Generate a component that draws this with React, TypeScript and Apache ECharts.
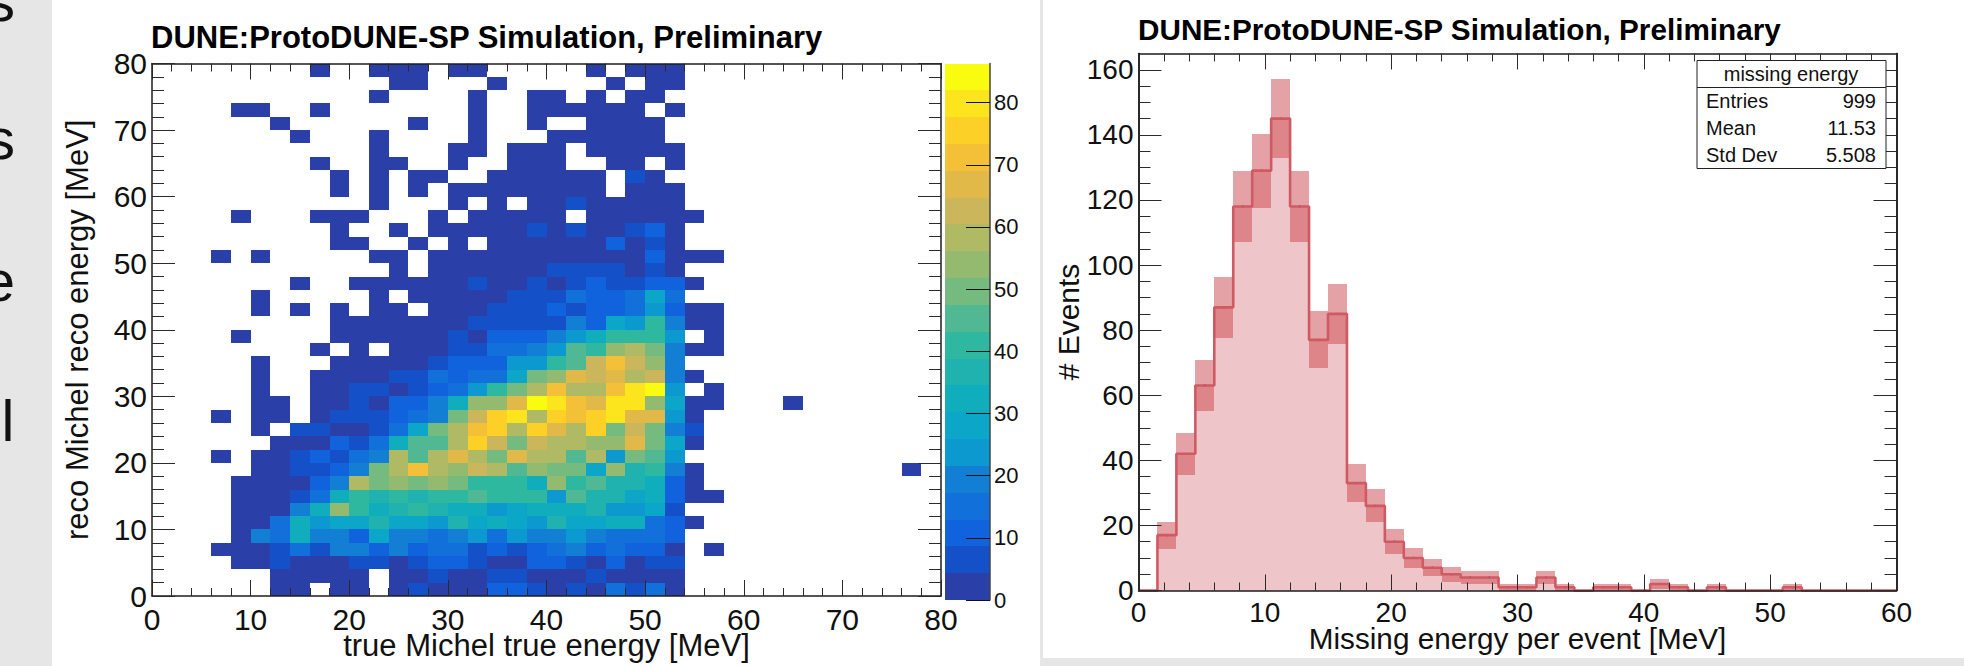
import React, { useEffect, useRef } from "react";
import * as echarts from "echarts";

const FONT = "'Liberation Sans', Arial, sans-serif";
const titleText = "DUNE:ProtoDUNE-SP Simulation, Preliminary";
const panelLetters = ["s", "s", "e", "l"];

// 2D histogram: counts per 2 MeV x 2 MeV bin, top row (78-80 MeV) first, columns 0-58 MeV
const heatBinWidth = 2;
const heatRows: number[][] = [
  [0,0,0,0,0,0,0,0,2,0,0,2,2,2,0,2,2,0,0,0,0,0,2,0,2,2,2,0,0],
  [0,0,0,0,0,0,0,0,0,0,0,0,2,2,0,0,0,2,0,0,0,0,0,2,0,2,2,0,0],
  [0,0,0,0,0,0,0,0,0,0,0,2,0,0,0,0,2,0,0,2,2,0,2,0,2,2,0,0,0],
  [0,0,0,0,2,2,0,0,2,0,0,0,0,0,0,0,2,0,0,2,2,2,2,2,2,0,2,0,0],
  [0,0,0,0,0,0,2,0,0,0,0,0,0,2,0,0,2,0,0,2,0,0,2,2,2,2,0,0,0],
  [0,0,0,0,0,0,0,2,0,0,0,2,0,0,0,0,2,0,0,0,2,2,2,2,2,2,0,0,0],
  [0,0,0,0,0,0,0,0,0,0,0,2,0,0,0,2,2,0,2,2,2,0,2,2,2,2,2,0,0],
  [0,0,0,0,0,0,0,0,2,0,0,2,2,0,0,2,0,0,2,2,2,0,0,2,2,0,2,0,0],
  [0,0,0,0,0,0,0,0,0,2,0,2,0,2,2,0,0,2,2,2,2,2,2,0,6,2,0,0,0],
  [0,0,0,0,0,0,0,0,0,2,0,2,0,2,0,2,2,2,2,2,2,2,2,0,2,2,2,0,0],
  [0,0,0,0,0,0,0,0,0,0,0,2,0,0,0,2,0,2,0,2,2,6,2,2,2,2,2,0,0],
  [0,0,0,0,2,0,0,0,2,2,2,0,0,0,2,0,2,2,2,2,2,0,2,2,2,2,2,2,0],
  [0,0,0,0,0,0,0,0,0,2,0,0,2,0,2,2,2,2,2,6,2,6,2,2,6,11,2,0,0],
  [0,0,0,0,0,0,0,0,0,2,2,0,0,2,0,2,0,2,2,2,2,2,2,11,2,6,2,0,0],
  [0,0,0,2,0,2,0,0,0,0,0,2,2,0,2,2,2,2,2,2,2,2,2,2,2,11,2,2,2],
  [0,0,0,0,0,0,0,0,0,0,0,0,2,0,2,2,2,2,2,2,6,6,6,6,2,6,2,0,0],
  [0,0,0,0,0,0,0,2,0,0,2,2,2,2,2,2,6,2,2,6,2,6,11,6,6,11,11,2,0],
  [0,0,0,0,0,2,0,0,0,0,0,2,0,2,2,2,2,2,6,6,6,15,11,11,15,28,15,0,0],
  [0,0,0,0,0,2,0,2,0,2,0,2,2,0,2,2,2,6,6,6,11,6,11,11,15,24,11,2,2],
  [0,0,0,0,0,0,0,0,0,2,2,2,2,2,2,2,6,6,6,6,6,19,11,28,24,41,19,2,2],
  [0,0,0,0,2,0,0,0,0,2,2,2,2,2,2,6,2,11,11,11,19,24,32,41,41,41,24,0,2],
  [0,0,0,0,0,0,0,0,2,0,2,0,2,2,2,6,6,15,15,19,24,45,41,54,58,50,19,2,2],
  [0,0,0,0,0,2,0,0,0,2,2,2,2,2,6,11,11,11,24,24,41,45,63,71,63,54,19,0,0],
  [0,0,0,0,0,2,0,0,2,2,2,2,6,6,15,11,15,15,28,50,54,67,63,67,58,63,19,2,0],
  [0,0,0,0,0,2,0,0,2,2,6,6,2,6,11,15,24,41,50,58,71,58,58,71,80,84,24,0,2],
  [0,0,0,0,0,2,2,0,2,2,6,2,11,11,19,32,54,54,67,84,80,71,67,80,80,54,28,2,2],
  [0,0,0,2,0,2,2,0,2,6,6,6,11,15,19,50,63,76,80,58,76,71,76,80,67,67,24,2,0],
  [0,0,0,0,0,2,0,6,6,2,2,6,15,28,50,58,71,76,58,76,67,58,76,50,63,50,19,6,0],
  [0,0,0,0,0,0,2,2,2,11,6,15,32,45,45,58,76,63,50,63,58,58,54,54,67,50,28,2,0],
  [0,0,0,2,0,2,2,6,11,6,15,19,58,45,58,67,58,50,67,58,58,45,58,24,50,45,24,0,0],
  [0,0,0,0,0,2,2,6,6,11,19,50,58,71,58,54,63,58,45,54,50,50,28,54,37,41,19,2,0],
  [0,0,0,0,2,2,2,2,11,19,58,50,54,50,54,50,41,41,41,32,54,41,45,37,37,32,11,2,0],
  [0,0,0,0,2,2,2,6,15,32,41,37,41,37,41,41,45,41,41,41,24,45,37,37,28,32,11,2,2],
  [0,0,0,0,2,2,2,19,32,54,41,32,37,41,37,32,32,24,28,32,32,32,37,24,24,28,6,0,0],
  [0,0,0,0,2,2,15,32,24,28,28,37,28,28,24,37,28,32,28,24,37,28,28,32,32,15,11,2,0],
  [0,0,0,0,2,19,15,32,19,19,11,28,19,19,15,19,24,15,24,19,19,24,19,15,15,15,11,0,0],
  [0,0,0,2,2,2,6,15,6,19,19,11,19,11,15,15,6,11,6,11,15,19,11,15,11,11,2,0,2],
  [0,0,0,0,2,2,6,2,2,2,6,6,2,6,11,11,6,2,2,11,11,6,2,11,2,6,6,0,0],
  [0,0,0,0,0,0,2,2,2,2,2,0,2,2,6,2,2,6,6,2,2,2,6,2,2,2,2,0,0],
  [0,0,0,0,0,0,2,2,0,2,2,0,2,6,2,2,2,11,11,6,2,6,2,15,6,15,2,0,0],
];
const heatOutliers: number[][] = [[64, 28, 2], [76, 18, 2]];

// colour bar
const zMax = 86.3;
const zPalette = [
  "#2a3fa8", "#1450c8", "#1062dd", "#1170da", "#127ed4",
  "#0b99cf", "#0ba6c8", "#10adbc", "#20b2ae", "#2fb8a0",
  "#50b893", "#75bb80", "#94ba70", "#b0ba65", "#ccb65b",
  "#e0b948", "#f4c038", "#fdd027", "#fce51d", "#fafc10",
];
const zTicks = [0, 10, 20, 30, 40, 50, 60, 70, 80];

// 1D histogram, 1.5 MeV bins
const missBinWidth = 1.5;
const missCounts = [
  0, 17, 42, 63, 87, 118, 129, 145, 118, 77,
  85, 33, 26, 15, 10, 7, 5, 4, 4, 1,
  1, 4, 1, 0, 1, 1, 0, 2, 1, 0,
  1, 0, 0, 0, 1, 0, 0, 0, 0, 0,
];
const missMajorTicks = [0, 20, 40, 60, 80, 100, 120, 140, 160];
const missMinorTicks = [
  5, 10, 15, 25, 30, 35, 45, 50, 55, 65, 70, 75, 85, 90, 95,
  105, 110, 115, 125, 130, 135, 145, 150, 155,
];
const statsTitle = "missing energy";
const statsNames = ["Entries", "Mean", "Std Dev"];
const statsValues = ["999", "11.53", "5.508"];

const AXIS_COLOR = "#1c1c1c";
const TICK_COLOR = "#2a2a2a";

function xAxisOf(gridIndex: number, max: number, position: string, labels: boolean, fontSize: number, margin: number, name?: string, nameGap?: number, nameSize?: number) {
  return {
    type: "value", gridIndex, min: 0, max, interval: 10, position, z: 10,
    name, nameLocation: "middle", nameGap, nameMoveOverlap: false,
    nameTextStyle: { fontFamily: FONT, fontSize: nameSize, color: "#111" },
    axisLine: { show: true, onZero: false, lineStyle: { color: AXIS_COLOR, width: 1.5 } },
    axisTick: { show: true, inside: true, length: 16, lineStyle: { color: TICK_COLOR, width: 1 } },
    minorTick: { show: true, splitNumber: 5, length: 8, lineStyle: { color: TICK_COLOR, width: 1 } },
    axisLabel: { show: labels, fontFamily: FONT, fontSize, color: "#111", margin, hideOverlap: false },
    splitLine: { show: false },
    minorSplitLine: { show: false },
  };
}

function boxOf(a: number[], b: number[], fill: string) {
  const x = Math.round(a[0]), y = Math.round(a[1]);
  return { type: "rect", shape: { x, y, width: Math.round(b[0]) - x, height: Math.round(b[1]) - y }, style: { fill } };
}

function App() {
  const ref = useRef<HTMLDivElement>(null);
  useEffect(() => {
    const chart = echarts.init(ref.current!, undefined, { renderer: "svg" });

    const heatData: number[][] = [];
    heatRows.forEach((row, r) => {
      const yLow = 78 - r * heatBinWidth;
      row.forEach((v, c) => {
        if (v > 0) heatData.push([c * heatBinWidth, yLow, v]);
      });
    });
    heatOutliers.forEach((o) => heatData.push(o));
    const zStep = zMax / zPalette.length;

    const missRects = missCounts.map((n, i) => [i * missBinWidth, n]);
    const outline: number[][] = [];
    missCounts.forEach((n, i) => {
      outline.push([i * missBinWidth, n]);
      outline.push([(i + 1) * missBinWidth, n]);
    });
    const dots = missCounts
      .map((n, i) => [(i + 0.5) * missBinWidth, n])
      .filter((d) => d[1] > 0);

    const leftAxisCommon = {
      type: "value", gridIndex: 0, min: 0, max: 80, interval: 10, z: 10,
      axisLine: { show: true, onZero: false, lineStyle: { color: AXIS_COLOR, width: 1.5 } },
      axisTick: { show: true, inside: true, length: 23, lineStyle: { color: TICK_COLOR, width: 1 } },
      minorTick: { show: true, splitNumber: 5, length: 12, lineStyle: { color: TICK_COLOR, width: 1 } },
      splitLine: { show: false }, minorSplitLine: { show: false },
    };
    const rightYCommon = {
      type: "value", gridIndex: 1, min: 0, max: 165, z: 10,
      axisLine: { show: true, onZero: false, lineStyle: { color: AXIS_COLOR, width: 1.5 } },
      splitLine: { show: false },
    };

    chart.setOption({
      animation: false,
      backgroundColor: "#ffffff",
      textStyle: { fontFamily: FONT },
      title: [
        { text: titleText, left: 151, top: 22, padding: 0, textStyle: { fontFamily: FONT, fontSize: 31, fontWeight: "bold", color: "#000" } },
        { text: titleText, left: 1138, top: 14, padding: 0, textStyle: { fontFamily: FONT, fontSize: 29.7, fontWeight: "bold", color: "#000" } },
      ],
      grid: [
        { left: 152, top: 63.5, width: 789, height: 536.5 },
        { left: 1138.5, top: 53.5, width: 758, height: 537 },
        { left: 945, top: 63.5, width: 45, height: 536.5 },
      ],
      xAxis: [
        xAxisOf(0, 80, "bottom", true, 30, 8, "true Michel true energy [MeV]", 34, 31),
        xAxisOf(0, 80, "top", false, 30, 5),
        xAxisOf(1, 60, "bottom", true, 28, 8, "Missing energy per event [MeV]", 33, 29.7),
        xAxisOf(1, 60, "top", false, 28, 6),
        { type: "value", gridIndex: 2, min: 0, max: 1, show: false, splitLine: { show: false } },
      ],
      yAxis: [
        {
          ...leftAxisCommon, position: "left",
          name: "reco Michel reco energy [MeV]", nameLocation: "middle", nameGap: 59, nameMoveOverlap: false,
          nameTextStyle: { fontFamily: FONT, fontSize: 31, color: "#111" },
          axisLabel: { show: true, fontFamily: FONT, fontSize: 30, color: "#111", margin: 5 },
        },
        { ...leftAxisCommon, position: "right", axisLabel: { show: false } },
        {
          ...rightYCommon, position: "left",
          name: "# Events", nameLocation: "middle", nameGap: 55, nameMoveOverlap: false,
          nameTextStyle: { fontFamily: FONT, fontSize: 30, color: "#111" },
          axisTick: { show: true, inside: true, length: 23, customValues: missMajorTicks, lineStyle: { color: TICK_COLOR, width: 1 } },
          axisLabel: { show: true, customValues: missMajorTicks, fontFamily: FONT, fontSize: 28, color: "#111", margin: 5 },
        },
        {
          ...rightYCommon, position: "right",
          axisTick: { show: true, inside: true, length: 23, customValues: missMajorTicks, lineStyle: { color: TICK_COLOR, width: 1 } },
          axisLabel: { show: false },
        },
        {
          ...rightYCommon, position: "left",
          axisTick: { show: true, inside: true, length: 12, customValues: missMinorTicks, lineStyle: { color: TICK_COLOR, width: 1 } },
          axisLabel: { show: false },
        },
        {
          ...rightYCommon, position: "right",
          axisTick: { show: true, inside: true, length: 12, customValues: missMinorTicks, lineStyle: { color: TICK_COLOR, width: 1 } },
          axisLabel: { show: false },
        },
        {
          type: "value", gridIndex: 2, min: 0, max: zMax, position: "right", z: 10,
          axisLine: { show: true, onZero: false, lineStyle: { color: "#444", width: 1.5 } },
          axisTick: { show: true, inside: true, length: 24, customValues: zTicks, lineStyle: { color: "#111", width: 1 } },
          axisLabel: { show: true, customValues: zTicks, fontFamily: FONT, fontSize: 22, color: "#111", margin: 4 },
          splitLine: { show: false },
        },
      ],
      series: [
        {
          type: "custom", xAxisIndex: 0, yAxisIndex: 0, data: heatData, silent: true,
          encode: { x: 0, y: 1 },
          renderItem: (_: any, api: any) => {
            const x = api.value(0), y = api.value(1), v = api.value(2);
            const level = Math.min(zPalette.length - 1, Math.floor(v / zStep));
            return boxOf(api.coord([x, y + heatBinWidth]), api.coord([x + heatBinWidth, y]), zPalette[level]);
          },
        },
        {
          type: "custom", xAxisIndex: 4, yAxisIndex: 6, silent: true,
          data: zPalette.map((_, i) => [0, i]),
          encode: { x: 0, y: 1 },
          renderItem: (_: any, api: any) => {
            const i = api.value(1);
            return boxOf(api.coord([0, (i + 1) * zStep]), api.coord([1, i * zStep]), zPalette[i]);
          },
        },
        {
          type: "custom", xAxisIndex: 2, yAxisIndex: 2, data: missRects, silent: true,
          encode: { x: 0, y: 1 },
          renderItem: (_: any, api: any) => {
            const x = api.value(0), n = api.value(1);
            if (!(n > 0)) return { type: "group", children: [] };
            const err = Math.sqrt(n);
            const box = (hi: number, lo: number, fill: string) =>
              boxOf(api.coord([x, hi]), api.coord([x + missBinWidth, lo]), fill);
            return {
              type: "group",
              children: [
                box(n - err, 0, "#eec5c8"),
                box(n, n - err, "#dd8589"),
                box(n + err, n, "#e4a2a6"),
              ],
            };
          },
        },
        {
          type: "line", xAxisIndex: 2, yAxisIndex: 2, data: outline, showSymbol: false, symbol: "none", clip: false, silent: true,
          lineStyle: { color: "#cf5a64", width: 2.6 },
        },
        {
          type: "scatter", xAxisIndex: 2, yAxisIndex: 2, data: dots, symbol: "circle", symbolSize: 2, silent: true,
          itemStyle: { color: "#000" },
        },
      ],
      graphic: [
        { type: "rect", z: 50, shape: { x: 0, y: 0, width: 52, height: 666 }, style: { fill: "#e6e6e6" } },
        { type: "rect", z: 50, shape: { x: 1040, y: 0, width: 3, height: 666 }, style: { fill: "#e6e6e6" } },
        { type: "rect", z: 50, shape: { x: 1040, y: 658, width: 924, height: 8 }, style: { fill: "#e6e6e6" } },
        { type: "text", z: 51, x: 15, y: 29, style: { text: panelLetters[0], fill: "#111", font: `58px ${FONT}`, textAlign: "right", textVerticalAlign: "bottom" } },
        { type: "text", z: 51, x: 15, y: 167, style: { text: panelLetters[1], fill: "#111", font: `58px ${FONT}`, textAlign: "right", textVerticalAlign: "bottom" } },
        { type: "text", z: 51, x: 15, y: 309, style: { text: panelLetters[2], fill: "#111", font: `58px ${FONT}`, textAlign: "right", textVerticalAlign: "bottom" } },
        { type: "text", z: 51, x: 1.5, y: 449, style: { text: panelLetters[3], fill: "#111", font: `58px ${FONT}`, textAlign: "left", textVerticalAlign: "bottom" } },
        { type: "rect", z: 60, shape: { x: 1697, y: 60.5, width: 189, height: 108 }, style: { fill: "#fff", stroke: "#222", lineWidth: 1 } },
        { type: "line", z: 61, shape: { x1: 1697, y1: 87.5, x2: 1886, y2: 87.5 }, style: { stroke: "#222", lineWidth: 1 } },
        { type: "text", z: 62, x: 1791, y: 74, style: { text: statsTitle, fill: "#111", font: `20px ${FONT}`, textAlign: "center", textVerticalAlign: "middle" } },
        ...statsNames.map((s, i) => ({ type: "text", z: 62, x: 1706, y: 101 + i * 27, style: { text: s, fill: "#111", font: `20px ${FONT}`, textAlign: "left", textVerticalAlign: "middle" } })),
        ...statsValues.map((s, i) => ({ type: "text", z: 62, x: 1876, y: 101 + i * 27, style: { text: s, fill: "#111", font: `20px ${FONT}`, textAlign: "right", textVerticalAlign: "middle" } })),
      ],
    });
    return () => chart.dispose();
  }, []);
  return <div ref={ref} style={{ position: "absolute", left: 0, top: 0, width: 1964, height: 666 }} />;
}

export default App;
